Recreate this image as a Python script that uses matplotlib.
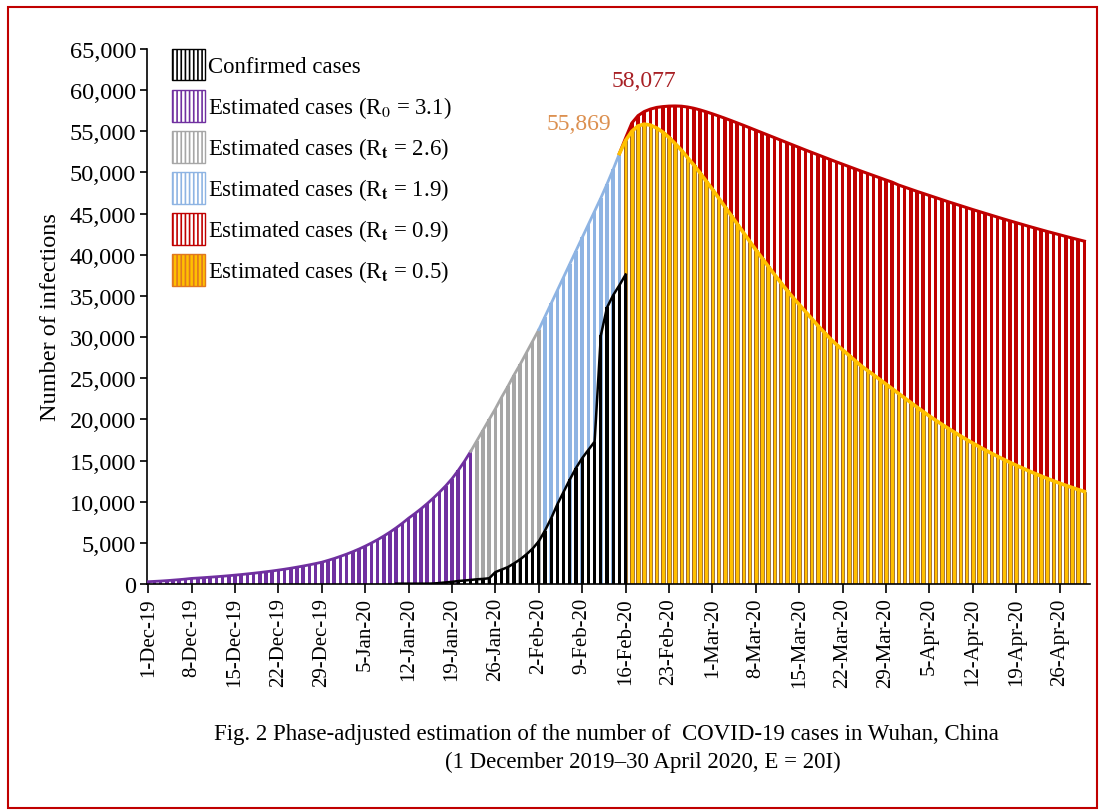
"""
Phase-adjusted estimation of COVID-19 cases in Wuhan (bar + line chart)
"""

import numpy as np
import matplotlib.pyplot as plt
from matplotlib.patches import Patch, Rectangle
from matplotlib.ticker import StrMethodFormatter

plt.rcParams['font.family'] = ['Liberation Serif', 'DejaVu Serif']
plt.rcParams['mathtext.fontset'] = 'stix'
plt.rcParams['hatch.linewidth'] = 1.2

# ---- data (day 0 = 1-Dec-2019) ----
purple_start = 0    # R0 = 3.1, 1-Dec .. 22-Jan
purple_vals = [280, 320, 360, 410, 470, 530, 600,
               680, 725, 775, 830, 885, 945, 1010,
               1080, 1150, 1230, 1310, 1395, 1490, 1585,
               1690, 1800, 1920, 2050, 2185, 2330, 2485,
               2650, 2870, 3100, 3360, 3630, 3930, 4250,
               4600, 4980, 5390, 5830, 6310, 6830, 7390,
               8000, 8550, 9140, 9770, 10450, 11170, 11940,
               12800, 13800, 14900, 16100]

gray_start = 53     # Rt = 2.6, 23-Jan .. 2-Feb
gray_vals = [17400, 18700, 20000, 21300, 22700, 24000, 25400, 26700,
             28100, 29500, 30900]

blue_start = 64     # Rt = 1.9, 3-Feb .. 15-Feb
blue_vals = [32500, 34100, 35700, 37300, 38900, 40500, 42100, 43700,
             45300, 46900, 48600, 50400, 52300]

late_start = 77     # 16-Feb .. 30-Apr
red_vals = [54200, 56000, 56900, 57400, 57700, 57900, 58000, 58060, 58077,
            58050, 57950, 57800, 57600,
            57370, 57120, 56860, 56590, 56310, 56020, 55730, 55430, 55130, 54830,
            54530, 54230, 53930, 53630, 53330, 53030, 52730, 52440, 52150, 51860,
            51570, 51280, 51000, 50720, 50440, 50160, 49890, 49620, 49350, 49080,
            48820, 48480, 48220, 47960, 47700, 47450, 47200, 46950, 46700, 46450,
            46210, 45970, 45730, 45490, 45260, 45030, 44800, 44570, 44340, 44120,
            43900, 43680, 43460, 43250, 43040, 42830, 42630, 42430, 42230, 42030,
            41840, 41650]
yellow_vals = [53900, 55000, 55650, 55869, 55750, 55400, 54900, 54250, 53500,
               52700, 51800, 50900, 49950,
               48950, 47950, 46900, 45850, 44800, 43750, 42700, 41650, 40600, 39600,
               38600, 37600, 36650, 35700, 34800, 33950, 33100, 32250, 31400, 30600,
               29800, 29100, 28450, 27800, 27150, 26500, 25950, 25400, 24840, 24280,
               23720, 23160, 22600, 22040, 21490, 20940, 20400, 19900, 19400, 18920,
               18450, 17990, 17540, 17110, 16690, 16280, 15880, 15500, 15130, 14770,
               14420, 14080, 13750, 13430, 13120, 12820, 12530, 12250, 11980, 11720,
               11470, 11230]

conf_start = 40     # confirmed cases, 10-Jan .. 16-Feb
conf_vals = [41, 41, 41, 41, 41, 41, 62, 121, 198, 258, 363, 425, 495, 572,
             618, 698, 1450, 1750, 2050, 2500, 3000, 3600, 4300, 5200, 6500,
             8000, 9700, 11200, 12700, 14100, 15300, 16300, 17300, 30200, 33600,
             35100, 36300, 37600]

tick_labels = ['1-Dec-19', '8-Dec-19', '15-Dec-19', '22-Dec-19', '29-Dec-19',
               '5-Jan-20', '12-Jan-20', '19-Jan-20', '26-Jan-20', '2-Feb-20',
               '9-Feb-20', '16-Feb-20', '23-Feb-20', '1-Mar-20', '8-Mar-20',
               '15-Mar-20', '22-Mar-20', '29-Mar-20', '5-Apr-20', '12-Apr-20',
               '19-Apr-20', '26-Apr-20']

labels = ['Confirmed cases',
          r'Estimated cases (R$_0$ = 3.1)',
          r'Estimated cases (R$_\mathbf{t}$ = 2.6)',
          r'Estimated cases (R$_\mathbf{t}$ = 1.9)',
          r'Estimated cases (R$_\mathbf{t}$ = 0.9)',
          r'Estimated cases (R$_\mathbf{t}$ = 0.5)']

c_black = '#000000'
c_purple = '#7030A0'
c_gray = '#A6A6A6'
c_blue = '#8EB4E3'
c_red = '#C00000'
c_yellow = '#FFC000'
c_yedge = '#9A6A2A'


def days_of(start, vals):
    return np.arange(start, start + len(vals))


fig = plt.figure(figsize=(11.04, 8.12), dpi=100)
ax = fig.add_axes([147 / 1104, 1 - 585 / 812, 943 / 1104, 535 / 812])

bw = 0.6
# estimated bars
ax.bar(days_of(purple_start, purple_vals), purple_vals, width=bw, color=c_purple, lw=0, zorder=1)
ax.bar(days_of(gray_start, gray_vals), gray_vals, width=bw, color=c_gray, lw=0, zorder=1)
ax.bar(days_of(blue_start, blue_vals), blue_vals, width=bw, color=c_blue, lw=0, zorder=1)
ax.bar(days_of(late_start, red_vals), red_vals, width=bw, color=c_red, lw=0, zorder=1)
ax.bar(days_of(late_start, yellow_vals), yellow_vals, width=bw, color=c_yellow,
       edgecolor=c_yedge, lw=0.6, zorder=2)
# confirmed bars
ax.bar(days_of(conf_start, conf_vals), conf_vals, width=0.5, color=c_black, lw=0, zorder=3)

# outlines along the bar tops (each joined to the end of the previous phase)
ax.plot(days_of(purple_start, purple_vals), purple_vals, color=c_purple, lw=2, zorder=4)
ax.plot(days_of(gray_start - 1, gray_vals + [0]), [purple_vals[-1]] + gray_vals,
        color=c_gray, lw=2, zorder=4)
ax.plot(days_of(blue_start - 1, blue_vals + [0]), [gray_vals[-1]] + blue_vals,
        color=c_blue, lw=2, zorder=4)
ax.plot(days_of(late_start - 1, red_vals + [0]), [blue_vals[-1]] + red_vals,
        color=c_red, lw=2.2, zorder=4)
ax.plot(days_of(late_start - 1, yellow_vals + [0]), [blue_vals[-1]] + yellow_vals,
        color=c_yellow, lw=2.6, zorder=5)
ax.plot(days_of(conf_start, conf_vals), conf_vals, color=c_black, lw=1.8, zorder=6)

# peak labels
red_peak = int(np.argmax(red_vals))
yel_peak = int(np.argmax(yellow_vals))
ax.text(late_start + red_peak - 5, 61200, f'{max(red_vals):,}', color='#A82025',
        fontsize=17, ha='center', va='center')
ax.text(late_start + yel_peak - 10.5, 56000, f'{max(yellow_vals):,}', color='#DC9050',
        fontsize=17, ha='center', va='center')

# axes
ax.set_xlim(-0.2, 151.9)
ax.set_ylim(0, 65000)
ax.set_yticks(np.arange(0, 65001, 5000))
ax.yaxis.set_major_formatter(StrMethodFormatter('{x:,.0f}'))
ax.set_xticks(np.arange(0, 7 * len(tick_labels), 7))
ax.set_xticklabels(tick_labels, rotation=90, fontsize=15)
ax.tick_params(axis='y', labelsize=17.5, direction='out', length=5, width=1.2, pad=3)
ax.tick_params(axis='x', direction='out', length=6.5, width=1.2, pad=3)
for s in ['top', 'right']:
    ax.spines[s].set_visible(False)
for s in ['left', 'bottom']:
    ax.spines[s].set_linewidth(1.2)
ax.set_ylabel('Number of infections', fontsize=17.5, labelpad=6)

# legend
hp = '||||'
handles = [Patch(facecolor='white', edgecolor=c_black, hatch=hp),
           Patch(facecolor='white', edgecolor=c_purple, hatch=hp),
           Patch(facecolor='white', edgecolor=c_gray, hatch=hp),
           Patch(facecolor='white', edgecolor=c_blue, hatch=hp),
           Patch(facecolor='white', edgecolor=c_red, hatch=hp),
           Patch(facecolor=c_yellow, edgecolor='#E07820', hatch=hp)]
fig.legend(handles, labels, loc='upper left', bbox_to_anchor=(172 / 1104, 1 - 50 / 812),
           frameon=False, fontsize=16.4, handlelength=1.45, handleheight=1.75,
           handletextpad=0.15, labelspacing=0.42, borderpad=0, borderaxespad=0)

# caption
fig.text(606 / 1104, 1 - 735 / 812,
         'Fig. 2 Phase-adjusted estimation of the number of  COVID-19 cases in Wuhan, China',
         ha='center', va='center', fontsize=16.5)
fig.text(643 / 1104, 1 - 762 / 812, '(1 December 2019\u201330 April 2020, E = 20I)',
         ha='center', va='center', fontsize=16.5)

# red page border
fig.patches.append(Rectangle((8 / 1104, 1 - 809 / 812), 1089 / 1104, 801 / 812,
                             transform=fig.transFigure, fill=False,
                             edgecolor='#C00000', lw=1.5))

fig.savefig('out.png', dpi=100)
